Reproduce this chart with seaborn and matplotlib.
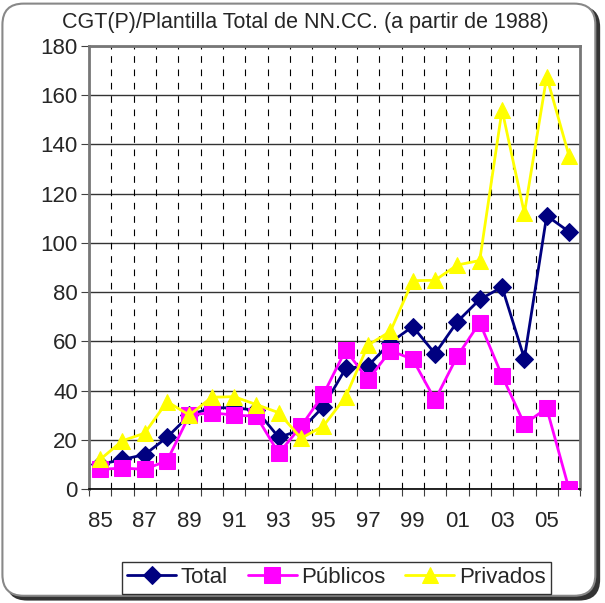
import matplotlib
matplotlib.use("Agg")
import matplotlib.pyplot as plt
import seaborn as sns
import numpy as np
import pandas as pd
from matplotlib.patches import FancyBboxPatch

years = ["85", "86", "87", "88", "89", "90", "91", "92", "93", "94", "95",
         "96", "97", "98", "99", "00", "01", "02", "03", "04", "05", "06"]
tick_labels = ["85", "87", "89", "91", "93", "95", "97", "99", "01", "03", "05"]
total = [10, 12, 14, 21, 30, 33, 33, 32, 21, 24, 33.5, 49, 50, 59.5, 66, 55, 68, 77, 82, 53, 111, 104.5]
publicos = [8, 8.5, 8, 11.5, 30, 31, 30, 29.6, 14.5, 25.5, 38.5, 56.5, 44.3, 56.2, 52.7, 36.2, 54, 67.6, 46, 26.4, 32.8, 0]
privados = [12, 19.6, 22.7, 35.5, 30, 37.3, 37.5, 34.3, 31, 20.6, 25.6, 37.5, 58.5, 64, 84.6, 84.8, 91, 92.8, 154, 112, 167.5, 135.3]

series_names = ["Total", "Públicos", "Privados"]
colors = ["#000080", "#FF00FF", "#FFFF00"]
markers = ["D", "s", "^"]
msizes = [9, 11, 12]

sns.set_style("white")
plt.rcParams["font.family"] = ["Liberation Sans", "DejaVu Sans"]

fig = plt.figure(figsize=(6.05, 6.03), dpi=100)
ax = fig.add_axes([0.147, 0.189, 0.812, 0.735])

# figure border with rounded corners and shadow
shadow = FancyBboxPatch((0.010, 0.004), 0.982, 0.986, boxstyle="round,pad=0,rounding_size=0.035",
                        transform=fig.transFigure, facecolor="#333333", edgecolor="none", zorder=-2)
border = FancyBboxPatch((0.004, 0.012), 0.980, 0.982, boxstyle="round,pad=0,rounding_size=0.035",
                        transform=fig.transFigure, facecolor="white", edgecolor="#888888", lw=1.5, zorder=-1)
fig.patches.extend([shadow, border])

idx = np.arange(len(years))
for name, vals, c, m, ms in zip(series_names, [total, publicos, privados], colors, markers, msizes):
    df = pd.DataFrame({"x": idx, "y": vals})
    sns.lineplot(data=df, x="x", y="y", ax=ax, color=c, marker=m, markersize=ms,
                 markeredgecolor=c, linewidth=2, label=name, zorder=3)

ax.set_xlim(-0.5, len(years) - 0.5)
ax.set_ylim(0, 180)
ax.set_yticks(np.arange(0, 181, 20))
ax.set_xticks(np.arange(-0.5, len(years), 1))
ax.set_xticklabels([])
ax.set_xticks([years.index(t) for t in tick_labels], minor=True)
ax.set_xticklabels(tick_labels, minor=True)
ax.tick_params(axis="x", which="minor", length=0, labelsize=16, pad=16)
ax.tick_params(axis="x", which="major", length=5, direction="out", color="#404040", bottom=True)
ax.tick_params(axis="y", length=6, direction="out", labelsize=16, color="#404040", left=True, pad=2)
ax.set_xlabel("")
ax.set_ylabel("")

ax.yaxis.grid(True, color="#333333", linewidth=1, zorder=0)
for b in np.arange(0.5, len(years) - 0.5, 1):
    ax.axvline(b, color="black", linewidth=0.8, linestyle=(0, (6, 6)), zorder=1)

for s in ["left", "top", "right"]:
    ax.spines[s].set_color("#777777")
    ax.spines[s].set_linewidth(2)
ax.spines["bottom"].set_color("black")
ax.spines["bottom"].set_linewidth(1.2)

fig.text(0.505, 0.962, "CGT(P)/Plantilla Total de NN.CC. (a partir de 1988)", fontsize=15.5,
         ha="center", va="center")

ax.get_legend().remove()
handles, labels = ax.get_legend_handles_labels()
leg = fig.legend(handles, labels, loc="center", bbox_to_anchor=(0.556, 0.042), ncol=3,
                 fontsize=16, frameon=True, fancybox=False, edgecolor="black",
                 handlelength=2.2, handletextpad=0.2, columnspacing=0.9, borderpad=0.25)
leg.get_frame().set_linewidth(1)

fig.savefig("out.png", dpi=100)
